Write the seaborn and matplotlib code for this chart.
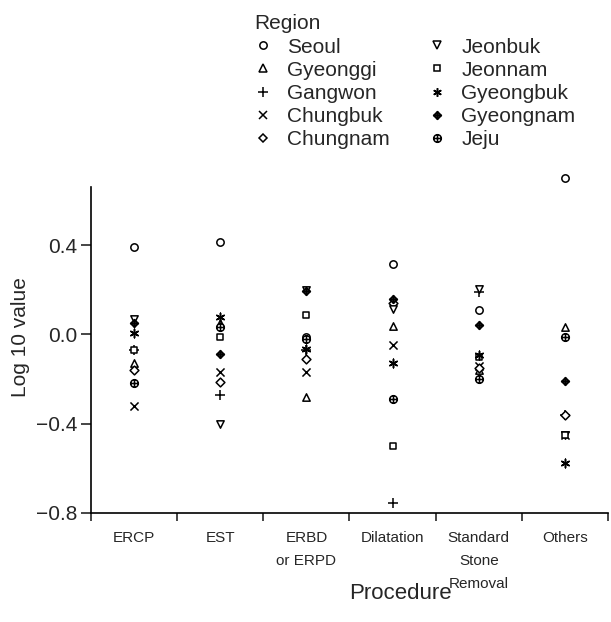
import matplotlib.pyplot as plt
import numpy as np
import pandas as pd
import seaborn as sns
from matplotlib.lines import Line2D
from matplotlib.path import Path

procedures = ["ERCP", "EST", "ERBD\nor ERPD", "Dilatation", "Standard\nStone\nRemoval", "Others"]

seoul = [0.39, 0.415, -0.01, 0.315, 0.108, 0.70]
gyeonggi = [-0.13, 0.05, -0.28, 0.036, -0.16, 0.035]
gangwon = [-0.07, -0.27, -0.07, -0.756, 0.19, -0.36]
chungbuk = [-0.32, -0.17, -0.17, -0.046, -0.14, -0.45]
chungnam = [-0.16, -0.214, -0.11, 0.14, -0.15, -0.36]
jeonbuk = [0.07, -0.40, 0.20, 0.115, 0.205, -0.45]
jeonnam = [-0.07, -0.012, 0.085, -0.50, -0.10, -0.45]
gyeongbuk = [0.005, 0.078, -0.065, -0.13, -0.094, -0.578]
gyeongnam = [0.05, -0.087, 0.195, 0.16, 0.04, -0.21]
jeju = [-0.22, 0.035, -0.02, -0.29, -0.20, -0.01]

regions = ["Seoul", "Gyeonggi", "Gangwon", "Chungbuk", "Chungnam",
           "Jeonbuk", "Jeonnam", "Gyeongbuk", "Gyeongnam", "Jeju"]
values = [seoul, gyeonggi, gangwon, chungbuk, chungnam,
          jeonbuk, jeonnam, gyeongbuk, gyeongnam, jeju]

rows = []
for region, vals in zip(regions, values):
    for proc, v in zip(procedures, vals):
        rows.append({"Region": region, "Procedure": proc, "value": v})
df = pd.DataFrame(rows)
df["pos"] = df["Procedure"].map({p: i for i, p in enumerate(procedures)})

# marker shapes
circle = Path.unit_circle()
hline = Path([[-1, 0], [1, 0]], [Path.MOVETO, Path.LINETO])
vline = Path([[0, -1], [0, 1]], [Path.MOVETO, Path.LINETO])
jeju_marker = Path.make_compound_path(circle, hline, vline)
diamond = Path([[0, 1], [1, 0], [0, -1], [-1, 0], [0, 1]],
               [Path.MOVETO, Path.LINETO, Path.LINETO, Path.LINETO, Path.CLOSEPOLY])
gyeongnam_marker = Path.make_compound_path(diamond, hline, vline)

styles = {
    "Seoul": dict(marker="o", s=28, fc="white"),
    "Gyeonggi": dict(marker="^", s=28, fc="white"),
    "Gangwon": dict(marker="+", s=42, fc="black"),
    "Chungbuk": dict(marker="x", s=34, fc="black"),
    "Chungnam": dict(marker="D", s=20, fc="white"),
    "Jeonbuk": dict(marker="v", s=28, fc="white"),
    "Jeonnam": dict(marker="s", s=22, fc="white"),
    "Gyeongbuk": dict(marker=(6, 2, 0), s=38, fc="black"),
    "Gyeongnam": dict(marker=gyeongnam_marker, s=32, fc="0.2"),
    "Jeju": dict(marker=jeju_marker, s=30, fc="white"),
}

sns.set_style("ticks")
plt.rcParams["font.family"] = ["Liberation Sans", "DejaVu Sans"]

fig = plt.figure(figsize=(6.11, 6.22), dpi=100)
ax = fig.add_axes([91 / 611, 1 - 513 / 622, 517 / 611, 326 / 622])

for region in regions:
    st = styles[region]
    sub = df[df["Region"] == region]
    if st["marker"] in ("+", "x"):
        sns.scatterplot(data=sub, x="pos", y="value", marker=st["marker"], s=st["s"],
                        color="black", linewidth=1.1, ax=ax, legend=False, clip_on=False)
    else:
        sns.scatterplot(data=sub, x="pos", y="value", marker=st["marker"], s=st["s"],
                        facecolor=st["fc"], edgecolor="black", linewidth=1.1, ax=ax,
                        legend=False, clip_on=False)

ax.set_xlim(-0.5, len(procedures) - 0.5)
ax.set_ylim(-0.8, 0.66)
ax.set_yticks([-0.8, -0.4, 0.0, 0.4])
ax.set_yticklabels(["\u22120.8", "\u22120.4", "0.0", "0.4"])
ax.tick_params(axis="y", labelsize=15, length=7, width=1.2, direction="out", pad=3)

ax.set_xticks(np.arange(-0.5, len(procedures), 1.0))
ax.set_xticklabels([])
ax.tick_params(axis="x", which="major", length=6, width=1.2, direction="out")
ax.set_xticks(np.arange(len(procedures)), minor=True)
ax.set_xticklabels(procedures, minor=True, fontsize=11, linespacing=1.8, va="top")
ax.tick_params(axis="x", which="minor", length=0, pad=13)

for side in ["top", "right"]:
    ax.spines[side].set_visible(False)
for side in ["left", "bottom"]:
    ax.spines[side].set_linewidth(1.2)
    ax.spines[side].set_color("black")

ax.set_xlabel("Procedure", fontsize=16)
ax.xaxis.set_label_coords(0.599, -0.215)
ax.set_ylabel("Log 10 value", fontsize=15)
ax.yaxis.set_label_coords(-0.118, 0.54)

handles = []
for region in regions:
    st = styles[region]
    if st["marker"] in ("+", "x"):
        h = Line2D([], [], linestyle="none", marker=st["marker"], color="black",
                   markersize=np.sqrt(st["s"]), markeredgewidth=1.1)
    else:
        h = Line2D([], [], linestyle="none", marker=st["marker"], markerfacecolor=st["fc"],
                   markeredgecolor="black", markersize=np.sqrt(st["s"]), markeredgewidth=1.1)
    handles.append(h)

fig.legend(handles, regions, ncol=2, loc="upper left", bbox_to_anchor=(244 / 611, 1 - 4 / 622),
           frameon=False, title="Region", alignment="left", fontsize=15, title_fontsize=15,
           handlelength=0.8, handletextpad=0.75, columnspacing=1.9, labelspacing=0.2,
           borderpad=0.0)

fig.savefig("out.png", dpi=100)
plt.close(fig)
